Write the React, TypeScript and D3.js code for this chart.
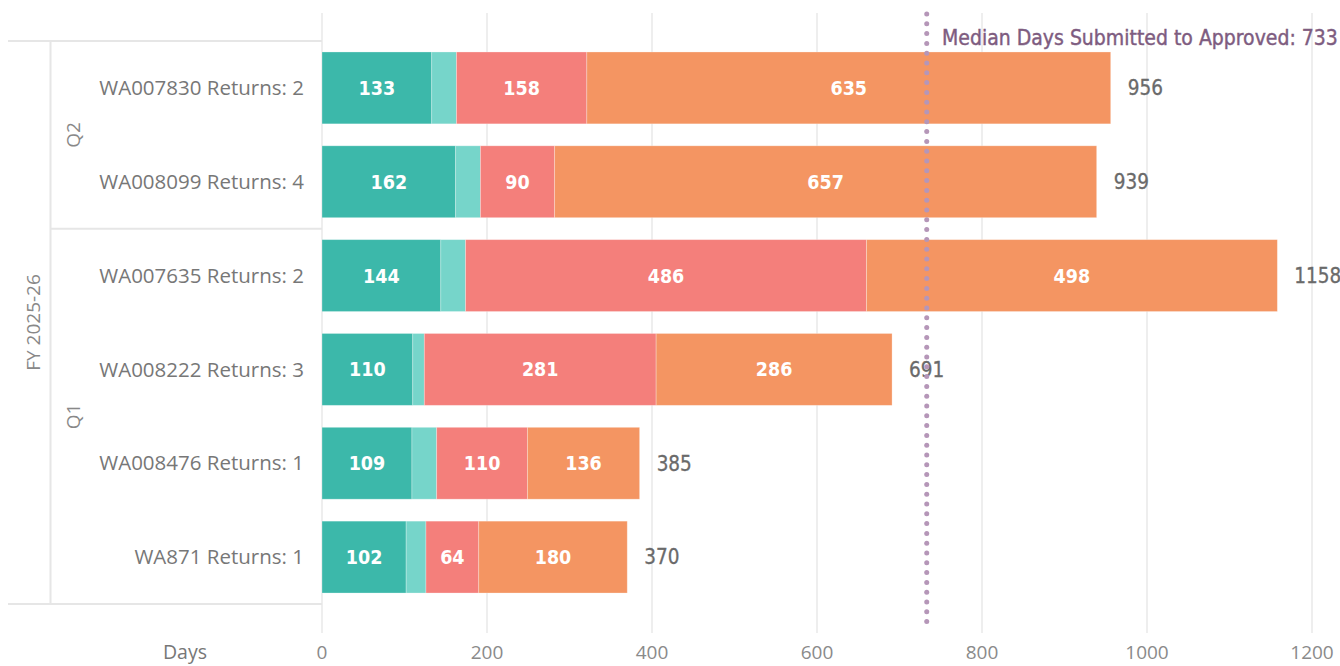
import React from "react";
import * as d3 from "d3";

const projects = [
  "WA007830 Returns: 2",
  "WA008099 Returns: 4",
  "WA007635 Returns: 2",
  "WA008222 Returns: 3",
  "WA008476 Returns: 1",
  "WA871 Returns: 1",
];
const quarters = ["Q2", "Q2", "Q1", "Q1", "Q1", "Q1"];
const fiscalYear = "FY 2025-26";
const stageA = [133, 162, 144, 110, 109, 102];
const stageB = [30, 30, 30, 14, 30, 24];
const stageC = [158, 90, 486, 281, 110, 64];
const stageD = [635, 657, 498, 286, 136, 180];
const totals = [956, 939, 1158, 691, 385, 370];
const xTicks = [0, 200, 400, 600, 800, 1000, 1200];
const medianDays = 733;
const medianLabel = "Median Days Submitted to Approved: 733";
const axisTitle = "Days";

const seriesList = [stageA, stageB, stageC, stageD];
const seriesColors = ["#3CB8AA", "#76D5CA", "#F47F7B", "#F49562"];

const W = 1340;
const H = 666;

export default function App() {
  const x = d3.scaleLinear().domain([0, 1200]).range([322, 1312]);
  const y = d3
    .scaleBand<string>()
    .domain(projects)
    .range([41, 604])
    .paddingInner(0.234)
    .paddingOuter(0.117);
  const bw = y.bandwidth();
  const step = y.step();

  const groups: { q: string; start: number; end: number }[] = [];
  quarters.forEach((q, i) => {
    const last = groups[groups.length - 1];
    if (last && last.q === q) last.end = i;
    else groups.push({ q, start: i, end: i });
  });
  const rowTop = (i: number) => (y(projects[i]) as number) - (step - bw) / 2;
  const rowBottom = (i: number) => rowTop(i) + step;

  const labelFont = "'DejaVu Sans Condensed', 'DejaVu Sans', sans-serif";
  const catFont = "'Open Sans', 'Noto Sans', sans-serif";

  const medX = x(medianDays);
  const dots = d3.range(14, 628, 9.8);

  return (
    <svg
      width={W}
      height={H}
      style={{ position: "absolute", left: 0, top: 0, background: "#fff" }}
    >
      {xTicks.map((t) => (
        <line
          key={"g" + t}
          x1={x(t)}
          x2={x(t)}
          y1={13}
          y2={633}
          stroke="#E9E9E9"
          strokeWidth={1.5}
        />
      ))}
      {xTicks.map((t) => (
        <text
          key={"t" + t}
          x={x(t)}
          y={652}
          dy="0.35em"
          textAnchor="middle"
          fontFamily={catFont}
          fontSize={19}
          fill="#8A8A8A"
        >
          {t}
        </text>
      ))}
      <text
        x={185}
        y={652}
        dy="0.35em"
        textAnchor="middle"
        fontFamily={catFont}
        fontSize={19.5}
        fill="#777"
      >
        {axisTitle}
      </text>

      <line x1={8} x2={322} y1={rowTop(0)} y2={rowTop(0)} stroke="#E6E6E6" strokeWidth={2} />
      <line x1={8} x2={322} y1={rowBottom(projects.length - 1)} y2={rowBottom(projects.length - 1)} stroke="#E6E6E6" strokeWidth={2} />
      <line x1={50.5} x2={50.5} y1={rowTop(0)} y2={rowBottom(projects.length - 1)} stroke="#E6E6E6" strokeWidth={2} />
      {groups.slice(0, -1).map((g) => (
        <line
          key={"gl" + g.q}
          x1={50}
          x2={322}
          y1={rowBottom(g.end)}
          y2={rowBottom(g.end)}
          stroke="#E6E6E6"
          strokeWidth={2}
        />
      ))}
      <text
        transform={`translate(33,${(rowTop(0) + rowBottom(projects.length - 1)) / 2}) rotate(-90)`}
        textAnchor="middle"
        dy="0.35em"
        fontFamily={catFont}
        fontSize={19}
        fill="#888"
      >
        {fiscalYear}
      </text>
      {groups.map((g) => (
        <text
          key={"q" + g.q}
          transform={`translate(73,${(rowTop(g.start) + rowBottom(g.end)) / 2}) rotate(-90)`}
          textAnchor="middle"
          dy="0.35em"
          fontFamily={catFont}
          fontSize={19}
          fill="#888"
        >
          {g.q}
        </text>
      ))}

      {projects.map((p) => (
        <text
          key={"c" + p}
          x={304}
          y={(y(p) as number) + bw / 2}
          dy="0.35em"
          textAnchor="end"
          fontFamily={catFont}
          fontSize={20.5}
          fill="#777"
        >
          {p}
        </text>
      ))}

      {projects.map((p, i) => {
        let acc = 0;
        const yy = y(p) as number;
        return (
          <g key={"b" + p}>
            {seriesList.map((s, k) => {
              const v = s[i];
              const x0 = x(acc);
              const x1 = x(acc + v);
              acc += v;
              const w = x1 - x0;
              return (
                <g key={k}>
                  <rect
                    x={x0}
                    y={yy}
                    width={w}
                    height={bw}
                    fill={seriesColors[k]}
                    stroke="#ffffff"
                    strokeOpacity={0.35}
                    strokeWidth={0.8}
                  />
                  {w > 40 && (
                    <text
                      x={(x0 + x1) / 2}
                      y={yy + bw / 2}
                      dy="0.36em"
                      textAnchor="middle"
                      fontFamily={labelFont}
                      fontWeight="bold"
                      fontSize={19.5}
                      fill="#fff"
                    >
                      {v}
                    </text>
                  )}
                </g>
              );
            })}
            <text
              x={x(totals[i]) + 17}
              y={yy + bw / 2}
              dy="0.36em"
              textAnchor="start"
              fontFamily={labelFont}
              fontSize={20.5}
              fill="#6A6A6A"
              stroke="#6A6A6A"
              strokeWidth={0.3}
            >
              {totals[i]}
            </text>
          </g>
        );
      })}

      {dots.map((d) => (
        <circle key={"m" + d} cx={medX} cy={d} r={2.5} fill="#B596B8" />
      ))}
      <text
        x={942}
        y={37}
        dy="0.36em"
        fontFamily={labelFont}
        fontSize={21}
        fill="#7E5C80"
        stroke="#7E5C80"
        strokeWidth={0.4}
      >
        {medianLabel}
      </text>
    </svg>
  );
}
